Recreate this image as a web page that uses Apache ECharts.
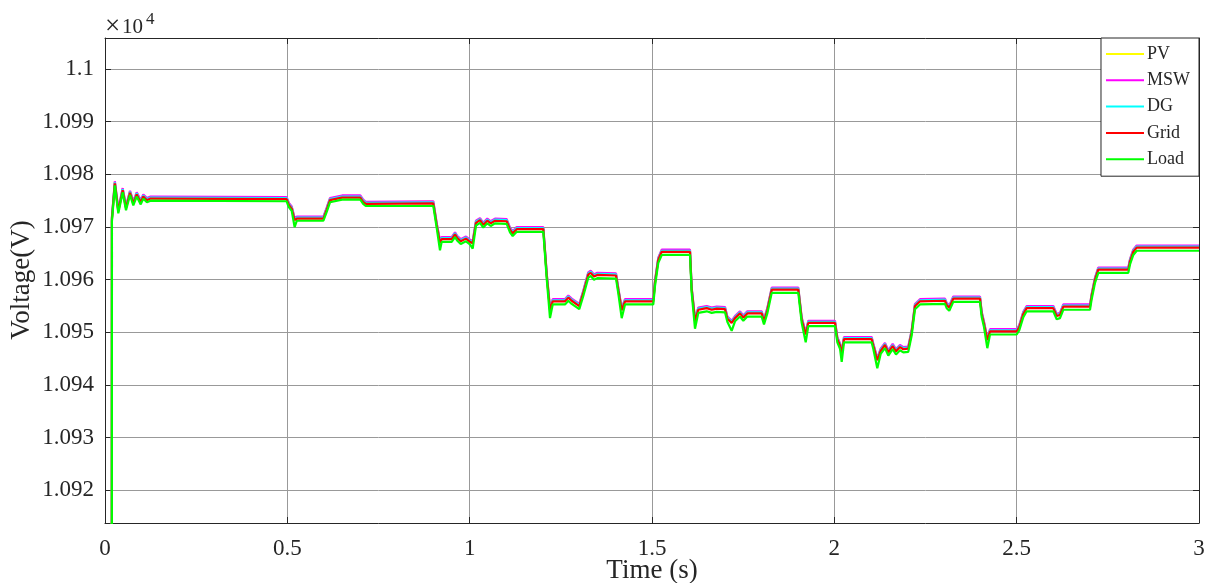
<!DOCTYPE html>
<html>
<head>
<meta charset="utf-8">
<title>Bus voltages</title>
<script src="https://cdn.jsdelivr.net/npm/echarts@6/dist/echarts.min.js"></script>
<style>
  html, body { margin: 0; padding: 0; background: #ffffff; }
  #chart { width: 1210px; height: 583px; }
</style>
</head>
<body>
<div id="chart"></div>
<script>
// Simulation time (s), shared by every bus trace
const TIME_S = [
  0.0185, 0.0190, 0.0270, 0.0365, 0.0485, 0.0576, 0.0686, 0.0776, 0.0870, 0.0980,
  0.1050, 0.1150, 0.1250, 0.4980, 0.5040, 0.5120, 0.5200, 0.5260, 0.5990, 0.6080,
  0.6170, 0.6500, 0.7000, 0.7080, 0.7150, 0.9003, 0.9095, 0.9186, 0.9233, 0.9507,
  0.9598, 0.9661, 0.9754, 0.9899, 1.0009, 1.0083, 1.0174, 1.0283, 1.0374, 1.0484,
  1.0577, 1.0695, 1.1015, 1.1106, 1.1180, 1.1290, 1.2019, 1.2113, 1.2203, 1.2277,
  1.2614, 1.2705, 1.2798, 1.3006, 1.3116, 1.3253, 1.3319, 1.3409, 1.3500, 1.4013,
  1.4076, 1.4169, 1.4260, 1.5036, 1.5082, 1.5173, 1.5266, 1.6042, 1.6088, 1.6179,
  1.6270, 1.6500, 1.6637, 1.6774, 1.7002, 1.7066, 1.7185, 1.7276, 1.7413, 1.7504,
  1.7614, 1.8008, 1.8071, 1.8162, 1.8283, 1.9012, 1.9105, 1.9215, 1.9286, 2.0018,
  2.0082, 2.0156, 2.0202, 2.0265, 2.1024, 2.1068, 2.1178, 2.1271, 2.1389, 2.1480,
  2.1600, 2.1691, 2.1800, 2.1891, 2.2028, 2.2121, 2.2212, 2.2349, 2.3034, 2.3081,
  2.3152, 2.3262, 2.3994, 2.4041, 2.4104, 2.4195, 2.4269, 2.5001, 2.5072, 2.5182,
  2.5275, 2.6004, 2.6098, 2.6188, 2.6279, 2.7011, 2.7057, 2.7148, 2.7238, 2.8061,
  2.8108, 2.8198, 2.8291, 3.0000
];

// Bus voltages (V)
const PV_V = [
  10800, 10971.8, 10978.6, 10973.3, 10977.3, 10973.9, 10976.8, 10974.8, 10976.5, 10975.0,
  10976.1, 10975.4, 10975.7, 10975.6, 10974.5, 10973.8, 10971.6, 10971.9, 10971.9, 10973.6,
  10975.4, 10975.9, 10975.9, 10975.1, 10974.7, 10974.8, 10970.7, 10967.3, 10968.0, 10968.0,
  10968.9, 10968.2, 10967.6, 10968.1, 10967.5, 10967.2, 10971.1, 10971.6, 10970.7, 10971.5,
  10971.0, 10971.5, 10971.4, 10969.8, 10969.1, 10969.9, 10969.9, 10961.1, 10954.5, 10956.2,
  10956.2, 10956.9, 10956.3, 10955.3, 10957.8, 10961.3, 10961.6, 10960.9, 10961.2, 10961.1,
  10958.3, 10954.5, 10956.2, 10956.2, 10959.7, 10964.1, 10965.6, 10965.6, 10958.4, 10952.5,
  10954.6, 10954.9, 10954.6, 10954.8, 10954.7, 10952.9, 10952.1, 10953.0, 10953.9, 10953.1,
  10953.9, 10953.9, 10952.4, 10954.5, 10958.4, 10958.4, 10952.7, 10949.9, 10952.1, 10952.1,
  10949.0, 10947.8, 10946.2, 10949.0, 10949.0, 10947.8, 10945.0, 10946.8, 10947.9, 10946.5,
  10947.7, 10946.7, 10947.5, 10947.1, 10947.2, 10950.3, 10955.3, 10956.2, 10956.3, 10955.5,
  10955.0, 10956.7, 10956.7, 10953.8, 10951.9, 10948.8, 10950.5, 10950.5, 10951.3, 10953.8,
  10954.9, 10954.9, 10953.4, 10953.6, 10955.2, 10955.2, 10957.2, 10960.3, 10962.2, 10962.2,
  10963.8, 10965.6, 10966.4, 10966.4
];

const MSW_V = [
  10800, 10971.9, 10978.7, 10973.4, 10977.4, 10974.0, 10976.9, 10974.9, 10976.6, 10975.1,
  10976.2, 10975.5, 10975.8, 10975.7, 10974.6, 10973.9, 10971.7, 10972.0, 10972.0, 10973.7,
  10975.5, 10976.0, 10976.0, 10975.2, 10974.8, 10974.9, 10970.8, 10967.4, 10968.1, 10968.1,
  10969.0, 10968.3, 10967.7, 10968.2, 10967.6, 10967.3, 10971.2, 10971.7, 10970.8, 10971.6,
  10971.1, 10971.6, 10971.5, 10969.9, 10969.2, 10970.0, 10970.0, 10961.2, 10954.6, 10956.3,
  10956.3, 10957.0, 10956.4, 10955.4, 10957.9, 10961.4, 10961.7, 10961.0, 10961.3, 10961.2,
  10958.4, 10954.6, 10956.3, 10956.3, 10959.8, 10964.2, 10965.7, 10965.7, 10958.5, 10952.6,
  10954.7, 10955.0, 10954.7, 10954.9, 10954.8, 10953.0, 10952.2, 10953.1, 10954.0, 10953.2,
  10954.0, 10954.0, 10952.5, 10954.6, 10958.5, 10958.5, 10952.8, 10950.0, 10952.2, 10952.2,
  10949.1, 10947.9, 10946.3, 10949.1, 10949.1, 10947.9, 10945.1, 10946.9, 10948.0, 10946.6,
  10947.8, 10946.8, 10947.6, 10947.2, 10947.3, 10950.4, 10955.4, 10956.3, 10956.4, 10955.6,
  10955.1, 10956.8, 10956.8, 10953.9, 10952.0, 10948.9, 10950.6, 10950.6, 10951.4, 10953.9,
  10955.0, 10955.0, 10953.5, 10953.7, 10955.3, 10955.3, 10957.3, 10960.4, 10962.3, 10962.3,
  10963.9, 10965.7, 10966.5, 10966.5
];

const DG_V = [
  10800, 10971.7, 10978.5, 10973.2, 10977.2, 10973.8, 10976.7, 10974.7, 10976.4, 10974.9,
  10976.0, 10975.3, 10975.6, 10975.5, 10974.4, 10973.7, 10971.5, 10971.8, 10971.8, 10973.5,
  10975.3, 10975.8, 10975.8, 10975.0, 10974.6, 10974.7, 10970.6, 10967.2, 10967.9, 10967.9,
  10968.8, 10968.1, 10967.5, 10968.0, 10967.4, 10967.1, 10971.0, 10971.5, 10970.6, 10971.4,
  10970.9, 10971.4, 10971.3, 10969.7, 10969.0, 10969.8, 10969.8, 10961.0, 10954.4, 10956.1,
  10956.1, 10956.8, 10956.2, 10955.2, 10957.7, 10961.2, 10961.5, 10960.8, 10961.1, 10961.0,
  10958.2, 10954.4, 10956.1, 10956.1, 10959.6, 10964.0, 10965.5, 10965.5, 10958.3, 10952.4,
  10954.5, 10954.8, 10954.5, 10954.7, 10954.6, 10952.8, 10952.0, 10952.9, 10953.8, 10953.0,
  10953.8, 10953.8, 10952.3, 10954.4, 10958.3, 10958.3, 10952.6, 10949.8, 10952.0, 10952.0,
  10948.9, 10947.7, 10946.1, 10948.9, 10948.9, 10947.7, 10944.9, 10946.7, 10947.8, 10946.4,
  10947.6, 10946.6, 10947.4, 10947.0, 10947.1, 10950.2, 10955.2, 10956.1, 10956.2, 10955.4,
  10954.9, 10956.6, 10956.6, 10953.7, 10951.8, 10948.7, 10950.4, 10950.4, 10951.2, 10953.7,
  10954.8, 10954.8, 10953.3, 10953.5, 10955.1, 10955.1, 10957.1, 10960.2, 10962.1, 10962.1,
  10963.7, 10965.5, 10966.3, 10966.3
];

const GRID_V = [
  10800, 10971.5, 10978.3, 10973.0, 10977.0, 10973.6, 10976.5, 10974.5, 10976.2, 10974.7,
  10975.8, 10975.1, 10975.4, 10975.3, 10974.2, 10973.5, 10971.3, 10971.6, 10971.6, 10973.3,
  10975.1, 10975.6, 10975.6, 10974.8, 10974.4, 10974.5, 10970.4, 10967.0, 10967.7, 10967.7,
  10968.6, 10967.9, 10967.3, 10967.8, 10967.2, 10966.9, 10970.8, 10971.3, 10970.4, 10971.2,
  10970.7, 10971.2, 10971.1, 10969.5, 10968.8, 10969.6, 10969.6, 10960.8, 10954.2, 10955.9,
  10955.9, 10956.6, 10956.0, 10955.0, 10957.5, 10961.0, 10961.3, 10960.6, 10960.9, 10960.8,
  10958.0, 10954.2, 10955.9, 10955.9, 10959.4, 10963.8, 10965.3, 10965.3, 10958.1, 10952.2,
  10954.3, 10954.6, 10954.3, 10954.5, 10954.4, 10952.6, 10951.8, 10952.7, 10953.6, 10952.8,
  10953.6, 10953.6, 10952.1, 10954.2, 10958.1, 10958.1, 10952.4, 10949.6, 10951.8, 10951.8,
  10948.7, 10947.5, 10945.9, 10948.7, 10948.7, 10947.5, 10944.7, 10946.5, 10947.6, 10946.2,
  10947.4, 10946.4, 10947.2, 10946.8, 10946.9, 10950.0, 10955.0, 10955.9, 10956.0, 10955.2,
  10954.7, 10956.4, 10956.4, 10953.5, 10951.6, 10948.5, 10950.2, 10950.2, 10951.0, 10953.5,
  10954.6, 10954.6, 10953.1, 10953.3, 10954.9, 10954.9, 10956.9, 10960.0, 10961.9, 10961.9,
  10963.5, 10965.3, 10966.1, 10966.1
];

const LOAD_V = [
  10800, 10971.1, 10977.9, 10972.6, 10976.6, 10973.2, 10976.1, 10974.1, 10975.8, 10974.3,
  10975.4, 10974.7, 10975.0, 10974.9, 10973.8, 10973.1, 10970.0, 10971.2, 10971.2, 10972.9,
  10974.7, 10975.2, 10975.2, 10974.4, 10974.0, 10974.0, 10969.9, 10965.6, 10967.2, 10967.2,
  10968.1, 10967.4, 10966.8, 10967.3, 10966.7, 10965.9, 10970.3, 10970.8, 10969.9, 10970.7,
  10970.2, 10970.7, 10970.6, 10969.0, 10968.3, 10969.1, 10969.1, 10960.2, 10952.7, 10955.3,
  10955.3, 10956.0, 10955.4, 10954.4, 10956.9, 10960.4, 10960.7, 10960.0, 10960.3, 10960.2,
  10957.4, 10952.7, 10955.3, 10955.3, 10958.8, 10963.2, 10964.7, 10964.7, 10957.5, 10950.7,
  10953.7, 10954.0, 10953.7, 10953.9, 10953.8, 10952.0, 10950.3, 10952.1, 10953.0, 10952.2,
  10953.0, 10953.0, 10951.5, 10953.6, 10957.5, 10957.5, 10951.8, 10948.1, 10951.2, 10951.2,
  10948.1, 10946.9, 10944.4, 10948.1, 10948.1, 10946.9, 10943.2, 10945.9, 10947.0, 10945.6,
  10946.8, 10945.8, 10946.6, 10946.2, 10946.3, 10949.4, 10954.4, 10955.3, 10955.4, 10954.6,
  10954.1, 10955.8, 10955.8, 10952.9, 10951.0, 10947.0, 10949.6, 10949.6, 10950.4, 10952.9,
  10954.0, 10954.0, 10952.5, 10952.7, 10954.3, 10954.3, 10956.3, 10959.4, 10961.3, 10961.3,
  10962.9, 10964.7, 10965.5, 10965.5
];

// Y axis: ticks in volts, labelled in units of 10^4 V
const Y_TICKS = [10920, 10930, 10940, 10950, 10960, 10970, 10980, 10990, 11000];
const Y_MIN = 10913.8;
const Y_MAX = 11005.9;

const SERIES_NAMES = ['PV', 'MSW', 'DG', 'Grid', 'Load'];
const SERIES_VALUES = [PV_V, MSW_V, DG_V, GRID_V, LOAD_V];
const SERIES_COLORS = ['#ffff00', '#ff00ff', '#00ffff', '#ff0000', '#00ff00'];

const FONT = '"Liberation Serif", "Times New Roman", serif';
const INK = '#262626';
const GRID_LINE = '#999999';

const chart = echarts.init(document.getElementById('chart'), null, { renderer: 'canvas' });

function pairUp(values) {
  return TIME_S.map((t, i) => [t, values[i]]);
}

const tickFmt = v => String(parseFloat((v / 1e4).toFixed(4)));

const plotSeries = SERIES_NAMES.map((name, k) => ({
  name: name,
  type: 'line',
  data: pairUp(SERIES_VALUES[k]),
  showSymbol: false,
  symbol: 'none',
  clip: true,
  z: 2 + k,
  lineStyle: { color: SERIES_COLORS[k], width: 2.2 },
  itemStyle: { color: SERIES_COLORS[k] },
  emphasis: { disabled: true }
}));

chart.setOption({
  animation: false,
  backgroundColor: '#ffffff',
  grid: {
    left: 105, right: 11, top: 38, bottom: 60,
    show: false
  },
  legend: {
    orient: 'vertical',
    right: 11,
    top: 38,
    padding: [6, 9, 7, 5],
    itemGap: 6.3,
    itemWidth: 38,
    itemHeight: 2,
    icon: 'rect',
    backgroundColor: '#ffffff',
    borderColor: INK,
    borderWidth: 1,
    borderRadius: 0,
    textStyle: { fontFamily: FONT, fontSize: 18, color: INK, lineHeight: 20, padding: [0, 0, 0, -2] },
    data: SERIES_NAMES
  },
  xAxis: [
    {
      type: 'value',
      min: 0, max: 3, interval: 0.5,
      position: 'bottom',
      axisLine: { show: true, lineStyle: { color: INK, width: 1 } },
      axisTick: { show: true, inside: true, length: 6, lineStyle: { color: INK } },
      axisLabel: { fontFamily: FONT, fontSize: 23, color: INK, margin: 14, formatter: v => String(v) },
      splitLine: { show: true, lineStyle: { color: GRID_LINE, width: 1 } }
    },
    {
      type: 'value',
      min: 0, max: 3, interval: 0.5,
      position: 'top',
      axisLine: { show: true, onZero: false, lineStyle: { color: INK, width: 1 } },
      axisTick: { show: true, inside: true, length: 6, lineStyle: { color: INK } },
      axisLabel: { show: false },
      splitLine: { show: false }
    }
  ],
  yAxis: [
    {
      type: 'value',
      min: Y_MIN, max: Y_MAX,
      position: 'left',
      axisLine: { show: true, onZero: false, lineStyle: { color: INK, width: 1 } },
      axisTick: { show: true, inside: true, length: 6, customValues: Y_TICKS, lineStyle: { color: INK } },
      axisLabel: { fontFamily: FONT, fontSize: 23, color: INK, margin: 11, customValues: Y_TICKS, formatter: tickFmt },
      splitLine: { show: true, lineStyle: { color: GRID_LINE, width: 1 } }
    },
    {
      type: 'value',
      min: Y_MIN, max: Y_MAX,
      position: 'right',
      axisLine: { show: true, onZero: false, lineStyle: { color: INK, width: 1 } },
      axisTick: { show: true, inside: true, length: 6, customValues: Y_TICKS, lineStyle: { color: INK } },
      axisLabel: { show: false },
      splitLine: { show: false }
    }
  ],
  graphic: [
    {
      type: 'text', left: 105, top: 13, silent: true,
      style: { text: '\u00d7', fontFamily: FONT, fontSize: 27, fill: INK }
    },
    {
      type: 'text', left: 122, top: 17, silent: true,
      style: { text: '10', fontFamily: FONT, fontSize: 21, fill: INK }
    },
    {
      type: 'text', left: 146, top: 11, silent: true,
      style: { text: '4', fontFamily: FONT, fontSize: 17, fill: INK }
    },
    {
      type: 'text', silent: true,
      x: 22, y: 280, rotation: Math.PI / 2,
      style: { text: 'Voltage(V)', fontFamily: FONT, fontSize: 27, fill: INK, align: 'center', verticalAlign: 'middle' }
    },
    {
      type: 'text', silent: true,
      x: 652, y: 571,
      style: { text: 'Time (s)', fontFamily: FONT, fontSize: 27, fill: INK, align: 'center', verticalAlign: 'middle' }
    }
  ],
  series: plotSeries
});
</script>
</body>
</html>
